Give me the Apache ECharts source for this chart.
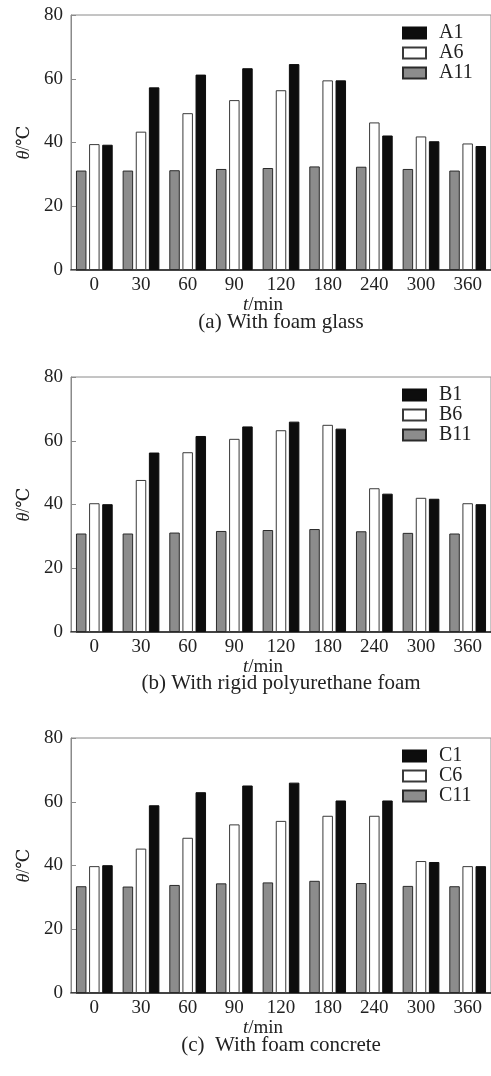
<!DOCTYPE html>
<html>
<head>
<meta charset="utf-8">
<script src="https://cdn.jsdelivr.net/npm/echarts@6/dist/echarts.min.js"></script>
<style>
html,body{margin:0;padding:0;background:#fff;}
#c{width:491px;height:1076px;}
</style>
</head>
<body>
<div id="c"></div>
<script>
const categories = ['0','30','60','90','120','180','240','300','360'];
const A1  = [39.3,57.3,61.3,63.3,64.6,59.5,42.2,40.4,38.9];
const A6  = [39.5,43.4,49.2,53.3,56.4,59.5,46.3,41.9,39.7];
const A11 = [31.2,31.2,31.3,31.7,32.0,32.5,32.4,31.7,31.2];
const B1  = [40.1,56.3,61.5,64.5,66.0,63.8,43.4,41.8,40.1];
const B6  = [40.4,47.7,56.4,60.6,63.3,65.0,45.1,42.1,40.4];
const B11 = [30.9,30.9,31.2,31.7,32.0,32.3,31.6,31.1,30.9];
const C1  = [40.1,58.9,63.0,65.1,66.0,60.4,60.4,41.1,39.8];
const C6  = [39.8,45.3,48.7,52.9,54.0,55.6,55.6,41.4,39.8];
const C11 = [33.5,33.4,33.9,34.4,34.7,35.2,34.5,33.6,33.5];
const yMin = 0, yMax = 80, yStep = 20;
const captions = ['(a) With foam glass', '(b) With rigid polyurethane foam', '(c)  With foam concrete'];
const panelNames = [['A1','A6','A11'],['B1','B6','B11'],['C1','C6','C11']];
const panelData = [[A1,A6,A11],[B1,B6,B11],[C1,C6,C11]];

const FONT = '"Liberation Serif","DejaVu Serif",serif';
const tops = [15, 377, 738];
const H = 255;
const captionY = [312, 673, 1035];

const chart = echarts.init(document.getElementById('c'), null, {renderer:'canvas'});
const grid = [], xAxis = [], yAxis = [], series = [], legend = [], title = [];

for (let p = 0; p < 3; p++) {
  grid.push({left:71, top:tops[p], width:421, height:H, show:true, borderColor:'#8a8a8a', borderWidth:1, backgroundColor:'transparent'});
  xAxis.push({
    type:'category', gridIndex:p, data:categories,
    axisLine:{lineStyle:{color:'#1a1a1a', width:1.5}},
    axisTick:{show:false},
    axisLabel:{color:'#222', fontFamily:FONT, fontSize:19, margin:6},
    name:'{i|t}/min', nameLocation:'middle', nameGap:14,
    nameTextStyle:{color:'#222', fontFamily:FONT, fontSize:19, padding:[0,36,0,0],
      rich:{i:{fontStyle:'italic', fontFamily:FONT, fontSize:19, color:'#222'}}}
  });
  yAxis.push({
    type:'value', gridIndex:p, min:yMin, max:yMax, interval:yStep,
    axisLine:{show:true, lineStyle:{color:'#8a8a8a', width:1}},
    axisTick:{show:true, inside:true, length:5, lineStyle:{color:'#8a8a8a'}},
    splitLine:{show:false},
    axisLabel:{color:'#222', fontFamily:FONT, fontSize:19, margin:8},
    name:'{i|θ}/℃', nameLocation:'middle', nameRotate:90, nameGap:33,
    nameTextStyle:{color:'#222', fontFamily:FONT, fontSize:18,
      rich:{i:{fontStyle:'italic', fontFamily:FONT, fontSize:18, color:'#222'}}}
  });
  const names = panelNames[p], d = panelData[p];
  const styles = [
    {color:'#0d0d0d', borderColor:'#0d0d0d', borderWidth:1},
    {color:'#ffffff', borderColor:'#3a3a3a', borderWidth:1},
    {color:'#8c8c8c', borderColor:'#2a2a2a', borderWidth:1}
  ];
  // bar order within group: 11, 6, 1
  [2,1,0].forEach(k => {
    series.push({
      type:'bar', name:names[k], xAxisIndex:p, yAxisIndex:p, data:d[k],
      barWidth:10.5, barGap:'25%', itemStyle:styles[k], animation:false
    });
  });
  legend.push({
    data:names.map(n => ({name:n, icon:'rect'})), orient:'vertical', left:402, top:tops[p]+8, padding:0,
    itemWidth:23, itemHeight:11, itemGap:0,
    textStyle:{fontFamily:FONT, fontSize:20, lineHeight:19.5, color:'#222', padding:[0,0,0,8]},
    selectedMode:false
  });
  title.push({
    text:captions[p], left:281, top:captionY[p], textAlign:'center', padding:0,
    textStyle:{fontFamily:FONT, fontSize:21, fontWeight:'normal', color:'#222'}
  });
}

chart.setOption({animation:false, backgroundColor:'#fff', grid, xAxis, yAxis, series, legend, title});
</script>
</body>
</html>
